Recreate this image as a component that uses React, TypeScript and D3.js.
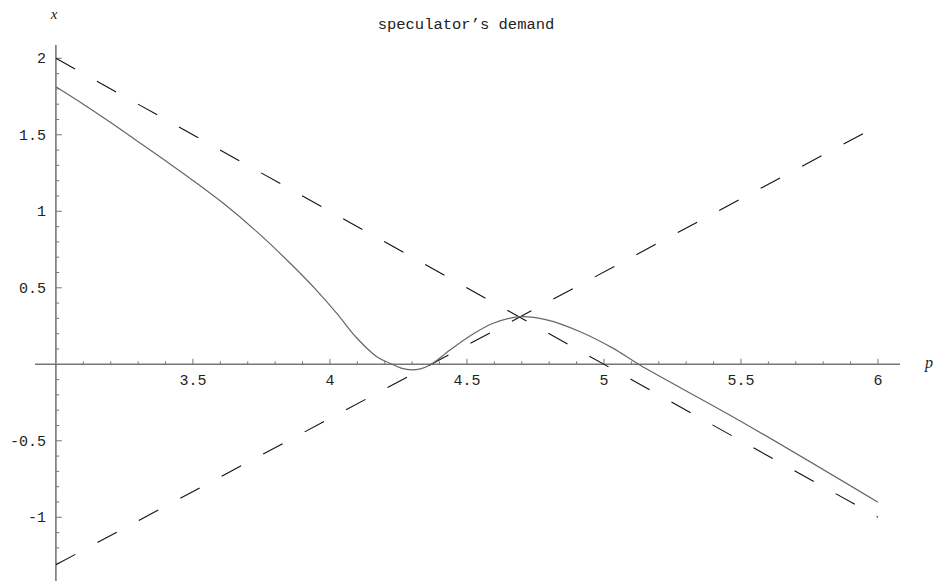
import React from "react";
import * as d3 from "d3";

const W = 938;
const H = 581;

// solid curve: speculator's demand
const curveP = [3.0, 3.1, 3.2, 3.3, 3.4, 3.489, 3.611, 3.733, 3.854, 3.952, 4.025, 4.098, 4.171, 4.219, 4.26, 4.299, 4.33, 4.365, 4.438, 4.511, 4.596, 4.694, 4.791, 4.913, 5.034, 5.131, 5.497, 6.0];
const curveX = [1.814, 1.70, 1.58, 1.455, 1.33, 1.216, 1.052, 0.867, 0.662, 0.482, 0.333, 0.172, 0.050, 0.007, -0.025, -0.037, -0.03, -0.005, 0.093, 0.185, 0.268, 0.311, 0.29, 0.213, 0.104, -0.005, -0.37, -0.902];

// dashed lines
const downP = [3, 6];
const downX = [2, -1];
const upP = [3, 6];
const upX = [-1.31, 1.56];

const xMajor = [3.5, 4, 4.5, 5, 5.5, 6];
const xMajorLabels = ["3.5", "4", "4.5", "5", "5.5", "6"];
const yMajor = [-1, -0.5, 0.5, 1, 1.5, 2];
const yMajorLabels = ["-1", "-0.5", "0.5", "1", "1.5", "2"];

const xMinor = d3.range(31, 61).map((v) => v / 10);
const yMinor = d3.range(-13, 21).map((v) => v / 10).filter((v) => Math.abs(v) > 1e-9);

const title = "speculator\u2019s demand";

export default function App() {
  const xs = d3.scaleLinear().domain([3, 6]).range([55.9, 878]);
  const ys = d3.scaleLinear().domain([0, 2]).range([364.3, 58.3]);

  const solid = d3
    .line<number>()
    .x((_, i) => xs(curveP[i]))
    .y((d) => ys(d))
    .curve(d3.curveCatmullRom.alpha(0.5))(curveX) as string;

  const lineGen = (ps: number[], vs: number[]) =>
    d3
      .line<number>()
      .x((_, i) => xs(ps[i]))
      .y((d) => ys(d))(vs) as string;

  const axisColor = "#777";
  const mono = "'Liberation Mono', 'Courier New', monospace";
  const serif = "'Liberation Serif', 'Times New Roman', serif";
  const x0 = xs(3);
  const y0 = ys(0);

  return (
    <svg
      width={W}
      height={H}
      style={{ position: "absolute", left: 0, top: 0, background: "#fff" }}
    >
      <rect x={0} y={0} width={W} height={H} fill="#fff" />
      {/* title */}
      <text x={466} y={28.5} textAnchor="middle" fontFamily={mono} fontSize={15.5} fill="#222">
        {title}
      </text>
      {/* axes */}
      <line x1={35} x2={900} y1={y0} y2={y0} stroke={axisColor} strokeWidth={1.6} />
      <line x1={x0} x2={x0} y1={45} y2={H} stroke={axisColor} strokeWidth={1.6} />
      {/* x ticks */}
      {xMinor.map((v) => {
        const isMajor = xMajor.some((m) => Math.abs(m - v) < 1e-9);
        return (
          <line
            key={"xm" + v}
            x1={xs(v)}
            x2={xs(v)}
            y1={y0}
            y2={y0 - (isMajor ? 5.5 : 3)}
            stroke={axisColor}
            strokeWidth={1}
          />
        );
      })}
      {xMajor.map((v, i) => (
        <text key={"xl" + v} x={xs(v)} y={385} textAnchor="middle" fontFamily={mono} fontSize={15} fill="#222">
          {xMajorLabels[i]}
        </text>
      ))}
      {/* y ticks */}
      {yMinor.map((v) => {
        const isMajor = yMajor.some((m) => Math.abs(m - v) < 1e-9);
        return (
          <line
            key={"ym" + v}
            x1={x0}
            x2={x0 + (isMajor ? 6 : 3.3)}
            y1={ys(v)}
            y2={ys(v)}
            stroke={axisColor}
            strokeWidth={1}
          />
        );
      })}
      {yMajor.map((v, i) => (
        <text key={"yl" + v} x={46} y={ys(v) + 5} textAnchor="end" fontFamily={mono} fontSize={15} fill="#222">
          {yMajorLabels[i]}
        </text>
      ))}
      {/* axis labels */}
      <text x={54} y={19} textAnchor="middle" fontFamily={serif} fontStyle="italic" fontSize={15} fill="#222">
        x
      </text>
      <text x={929} y={368} textAnchor="middle" fontFamily={serif} fontStyle="italic" fontSize={16} fill="#222">
        p
      </text>
      {/* dashed lines */}
      <path d={lineGen(downP, downX)} fill="none" stroke="#111" strokeWidth={1.1} strokeDasharray="22,25" />
      <path d={lineGen(upP, upX)} fill="none" stroke="#111" strokeWidth={1.1} strokeDasharray="22,25" />
      {/* solid curve */}
      <path d={solid} fill="none" stroke="#666" strokeWidth={1.2} />
    </svg>
  );
}
